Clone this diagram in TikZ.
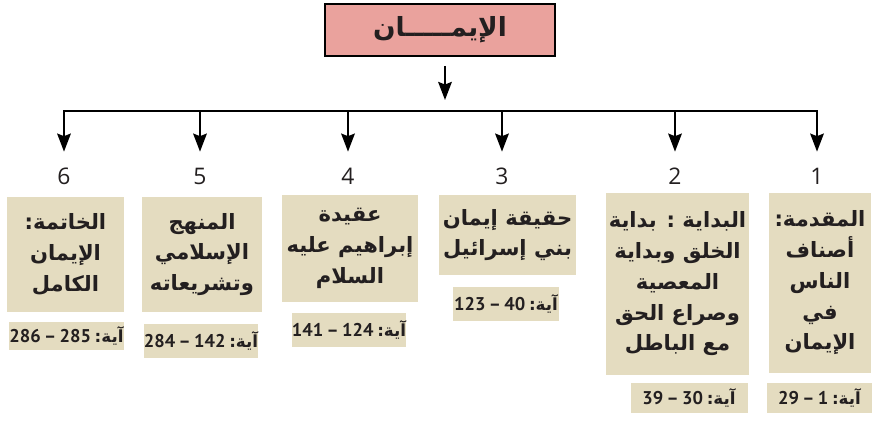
\documentclass[tikz,border=0pt]{standalone}
\usepackage{fontspec}
\setmainfont{DejaVu Sans}
\newfontfamily\arabicfont[Script=Arabic]{DejaVu Sans}
\newfontfamily\numfont{Open Sans}
\newfontfamily\ayanum{PT Sans}
\TeXXeTstate=1
\usetikzlibrary{arrows.meta}
\definecolor{imanpink}{HTML}{EAA29D}
\definecolor{itembeige}{HTML}{E4DCC0}
\definecolor{inkdark}{HTML}{231F20}
\newcommand{\artxt}[1]{\beginR #1\endR}
\newcommand{\ayadigits}{\ayanum\bfseries\fontsize{10.5}{12}\selectfont}
\newcommand{\ayatxt}[2]{\beginR آية:\hspace{0.22em}\beginL{\ayadigits #1}\endL\hspace{0.2em}{\ayadigits –}\hspace{0.2em}\beginL{\ayadigits #2}\endL\endR}
\begin{document}
\begin{tikzpicture}[x=0.02cm, y=-0.02cm,
	topbox/.style={draw=black, line width=1.1pt, fill=imanpink, inner sep=0pt, minimum width=4.6cm, minimum height=1.04cm, text=inkdark, font=\arabicfont\bfseries\fontsize{15}{17}\selectfont},
	itembox/.style={fill=itembeige, inner sep=0pt, align=center, text=inkdark, font=\arabicfont\bfseries\fontsize{12}{17.5}\selectfont},
	ayabox/.style={fill=itembeige, inner sep=0pt, text=inkdark, font=\arabicfont\bfseries\fontsize{9.5}{11}\selectfont},
	numlabel/.style={text=inkdark, inner sep=0pt, minimum height=0.48cm, font=\numfont\fontsize{13}{15}\selectfont},
	linkarrow/.style={draw=black, line width=1.4pt, -{Stealth[length=0.36cm, width=0.27cm, inset=0.05cm]}},
	barline/.style={draw=black, line width=1.4pt, line cap=rect}]
		\useasboundingbox (0,0) rectangle (875,426);
		\node[topbox] (iman) at (440,30) {\artxt{الإيمـــــان}};
		\coordinate (hub) at (445,111);
		\coordinate (c6) at (64,111);
		\coordinate (c5) at (200,111);
		\coordinate (c4) at (348,111);
		\coordinate (c3) at (502,111);
		\coordinate (c2) at (675,111);
		\coordinate (c1) at (817,111);
		\draw[linkarrow, shorten <=0.18cm, shorten >=0.22cm] (iman.south -| hub) -- (hub);
		\draw[barline] (c6) -- (c1);
		\node[numlabel] (n6) at (64,176) {6};
		\node[numlabel] (n5) at (200,176) {5};
		\node[numlabel] (n4) at (348,176) {4};
		\node[numlabel] (n3) at (502,176) {3};
		\node[numlabel] (n2) at (675,176) {2};
		\node[numlabel] (n1) at (817,176) {1};
		\draw[linkarrow, shorten >=0.24cm] (c6) -- (n6.north);
		\draw[linkarrow, shorten >=0.24cm] (c5) -- (n5.north);
		\draw[linkarrow, shorten >=0.24cm] (c4) -- (n4.north);
		\draw[linkarrow, shorten >=0.24cm] (c3) -- (n3.north);
		\draw[linkarrow, shorten >=0.24cm] (c2) -- (n2.north);
		\draw[linkarrow, shorten >=0.24cm] (c1) -- (n1.north);
		\node[itembox, minimum width=2.34cm, minimum height=2.32cm] (b6) at (65.5,254.5) {\artxt{الخاتمة:}\\\artxt{الإيمان}\\\artxt{الكامل}};
		\node[itembox, minimum width=2.40cm, minimum height=2.32cm] (b5) at (202,254.5) {\artxt{المنهج}\\\artxt{الإسلامي}\\\artxt{وتشريعاته}};
		\node[itembox, minimum width=2.72cm, minimum height=2.14cm] (b4) at (350,248.5) {\artxt{عقيدة}\\\artxt{إبراهيم عليه}\\\artxt{السلام}};
		\node[itembox, minimum width=2.74cm, minimum height=1.60cm] (b3) at (507.5,235) {\artxt{حقيقة إيمان}\\\artxt{بني إسرائيل}};
		\node[itembox, minimum width=2.86cm, minimum height=3.64cm] (b2) at (677.5,284) {\artxt{البداية : بداية}\\\artxt{الخلق وبداية}\\\artxt{المعصية}\\\artxt{وصراع الحق}\\\artxt{مع الباطل}};
		\node[itembox, minimum width=2.04cm, minimum height=3.60cm] (b1) at (820,283) {\artxt{المقدمة:}\\\artxt{أصناف}\\\artxt{الناس}\\\artxt{في}\\\artxt{الإيمان}};
		\node[ayabox, minimum width=2.14cm, minimum height=0.56cm] (a6) at (66.5,336) {\ayatxt{285}{286}};
		\node[ayabox, minimum width=2.16cm, minimum height=0.68cm] (a5) at (201,341) {\ayatxt{142}{284}};
		\node[ayabox, minimum width=2.18cm, minimum height=0.68cm] (a4) at (349,330) {\ayatxt{124}{141}};
		\node[ayabox, minimum width=2.12cm, minimum height=0.68cm] (a3) at (506,304) {\ayatxt{40}{123}};
		\node[ayabox, minimum width=2.34cm, minimum height=0.60cm] (a2) at (689,398) {\ayatxt{30}{39}};
		\node[ayabox, minimum width=2.10cm, minimum height=0.60cm] (a1) at (819.5,398) {\ayatxt{1}{29}};
	\end{tikzpicture}
\end{document}
